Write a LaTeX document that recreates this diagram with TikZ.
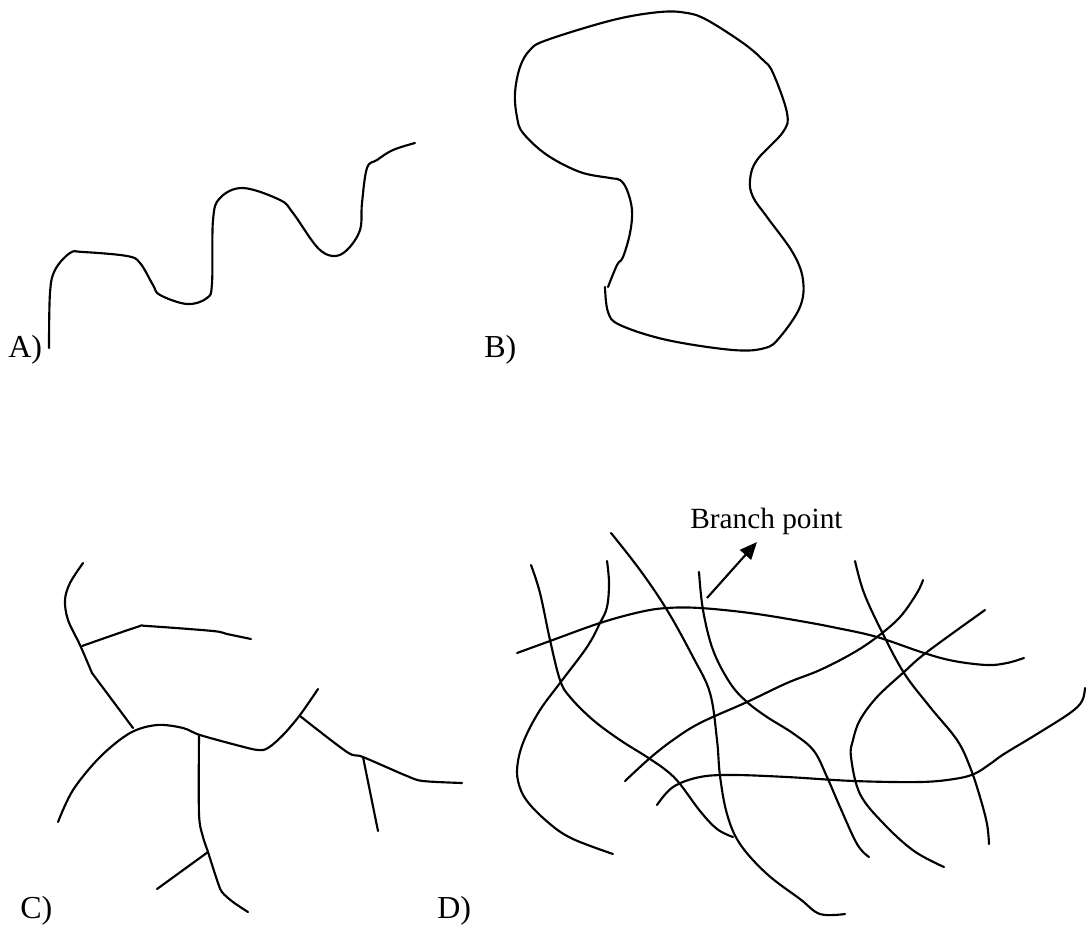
\documentclass[tikz,border=0pt]{standalone}
\usepackage{fontspec}
\setmainfont{Liberation Serif}
\usetikzlibrary{arrows.meta}
\begin{document}
\begin{tikzpicture}[x=0.75pt,y=-0.75pt,
  chain/.style={line width=1.6pt, line cap=round, line join=round},
  panellabel/.style={inner sep=0pt, anchor=base west, font=\fontsize{24}{28}\selectfont},
  notelabel/.style={inner sep=0pt, anchor=base west, font=\fontsize{22}{26}\selectfont},
  pointer/.style={line width=1.6pt, -{Triangle[length=13pt,width=11pt]}}]
\useasboundingbox (0,0) rectangle (1087,924);

% ---------- A) linear chain
\draw[chain] plot[smooth, tension=0.6] coordinates {
 (49,348) (50,293) (55,270) (70,253) (83,252) (127,256) (140,263) (153,285)
 (160,295) (187,304) (207,298) (212,283) (213,220) (220,198) (243,188)
 (280,200) (293,213) (317,247) (333,256) (347,250) (360,230) (362,203)
 (367,168) (377,160) (393,150) (415,143)};
\node[panellabel] (lblA) at (8,357) {A)};

% ---------- B) cyclic chain
\draw[chain] plot[smooth, tension=0.6] coordinates {
 (605,287) (608,312) (620,325) (667,340) (733,350) (765,348) (780,337)
 (800,307) (803,280) (793,253) (767,217) (753,197) (750,180) (757,160)
 (783,132) (787,113) (773,73) (763,60) (743,43) (707,20) (687,13) (660,12)
 (613,20) (547,40) (530,50) (520,67) (515,93) (517,117) (523,133) (547,155)
 (580,172) (610,178) (620,180) (627,190) (632,210) (630,233) (623,257)
 (617,265) (608,287)};
\node[panellabel] (lblB) at (484,357) {B)};

% ---------- C) branched chain
\draw[chain] plot[smooth, tension=0.55] coordinates {
 (83,563) (70,583) (65,600) (68,620) (80,645) (92,673)} -- (133,728);
\draw[chain] plot[smooth, tension=0.5] coordinates {
 (82,646) (137,627) (147,626) (213,631) (227,634) (251,639)};
\draw[chain] plot[smooth, tension=0.55] coordinates {
 (58,822) (73,790) (100,757) (130,733) (157,725) (183,728) (200,735)
 (240,746) (258,750) (268,748) (283,735) (300,715) (318,689)};
\draw[chain] plot[smooth, tension=0.5] coordinates {
 (300,716) (347,752) (363,757) (407,776) (423,781) (462,783)};
\draw[chain] (363,757) -- (378,831);
\draw[chain] plot[smooth, tension=0.5] coordinates {
 (199,735) (199,814) (203,837) (208,852) (217,880) (222,892) (233,902) (248,912)};
\draw[chain] (157,889) -- (208,852);
\node[panellabel] (lblC) at (20,918) {C)};

% ---------- D) network
\draw[chain] plot[smooth, tension=0.6] coordinates {
 (517,653) (550,641) (600,623) (640,612) (667,608) (700,608) (750,613)
 (800,621) (837,628) (877,637) (924,653) (954,661) (987,665) (1007,663) (1024,658)};
\draw[chain] plot[smooth, tension=0.6] coordinates {
 (531,565) (540,593) (550,640) (560,680) (570,697) (593,720) (620,740)
 (647,757) (667,771) (680,784) (700,811) (717,829) (733,837)};
\draw[chain] plot[smooth, tension=0.6] coordinates {
 (607,561) (609,583) (607,607) (600,623) (587,647) (560,683) (540,710)
 (525,738) (518,761) (518,781) (527,801) (550,824) (573,839) (613,854)};
\draw[chain] plot[smooth, tension=0.6] coordinates {
 (611,533) (640,570) (667,610) (693,657) (710,693) (717,740) (720,776)
 (727,814) (740,844) (767,874) (800,899) (820,914) (845,914)};
\draw[chain] plot[smooth, tension=0.6] coordinates {
 (699,572) (703,610) (713,650) (730,683) (747,702) (767,717) (794,734)
 (814,751) (827,777) (840,807) (857,844) (869,857)};
\draw[chain] plot[smooth, tension=0.6] coordinates {
 (625,781) (650,758) (673,740) (700,723) (747,702) (787,683) (820,670)
 (853,653) (877,637) (900,617) (917,593) (923,580)};
\draw[chain] plot[smooth, tension=0.6] coordinates {
 (855,561) (864,593) (882,632) (904,673) (930,707) (957,740) (970,767)
 (980,797) (987,824) (989,844)};
\draw[chain] plot[smooth, tension=0.6] coordinates {
 (985,610) (927,652) (904,672) (877,697) (860,720) (853,740) (851,757)
 (860,794) (884,824) (914,851) (944,867)};
\draw[chain] plot[smooth, tension=0.6] coordinates {
 (657,805) (673,787) (700,777) (733,775) (787,777) (854,781) (920,782)
 (954,779) (974,774) (990,764) (1004,754) (1037,734) (1070,713) (1082,701) (1085,688)};
\node[notelabel] (bp) at (690,528) {Branch point};
\coordinate (bpfrom) at (707,598);
\coordinate (bpto) at (757,542);
\draw[pointer] (bpfrom) -- (bpto);
\node[panellabel] (lblD) at (437,918) {D)};
\end{tikzpicture}
\end{document}
